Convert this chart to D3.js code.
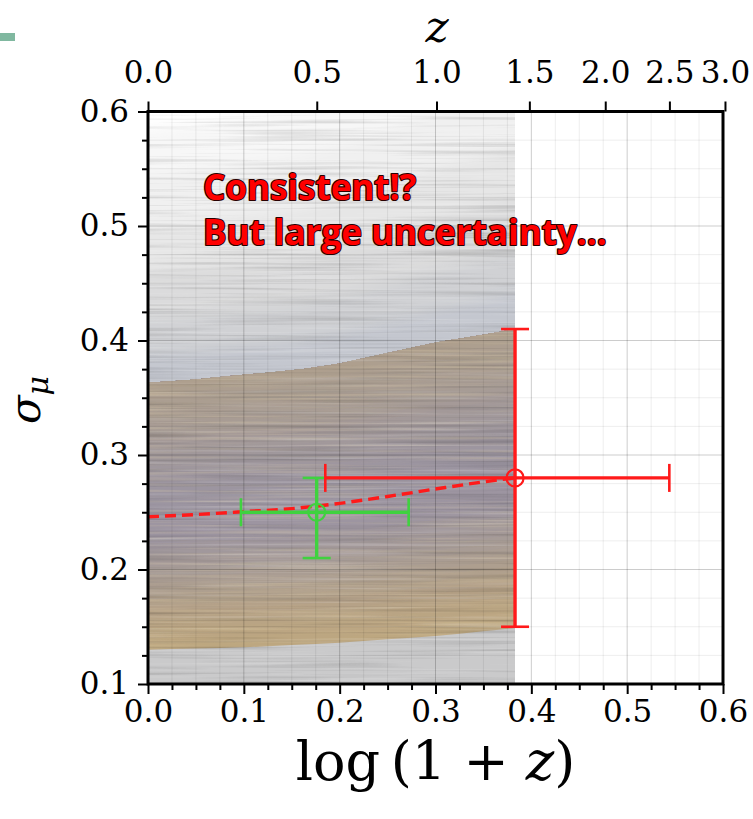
<!DOCTYPE html>
<html><head><meta charset="utf-8">
<script src="https://cdn.jsdelivr.net/npm/d3@7"></script>
<style>
html,body{margin:0;padding:0;background:#fff;}
svg{display:block;}
</style></head>
<body>
<svg id="chart" width="753" height="819"></svg>
<script>
// log10(1+z) sample positions for the best-fit curve and the posterior band
const logGrid   = [0, 0.05, 0.10, 0.15, 0.20, 0.25, 0.30, 0.35, 0.383];
const sigmaFit  = [0.246, 0.248, 0.2505, 0.2532, 0.2578, 0.2638, 0.2703, 0.2765, 0.280];
const bandUpper = [0.363, 0.366, 0.370, 0.374, 0.380, 0.389, 0.398, 0.405, 0.410];
const bandLower = [0.130, 0.131, 0.132, 0.134, 0.136, 0.139, 0.142, 0.146, 0.149];

// density levels of the gray posterior curves (values at z = 0), lightest first
const grayLevels = [0.585, 0.545, 0.500, 0.460, 0.420, 0.388];
const grayShades = ["#f7f7f7", "#f0f0f0", "#e6e6e6", "#dbdbdc", "#d0d1d4", "#c4c7cf"];

// colour stops across the highlighted band, from its lower edge (0) to its upper edge (1)
const bandStopT      = [0.00, 0.12, 0.28, 0.42, 0.58, 0.72, 0.86, 1.00];
const bandStopColors = ["#bea77f", "#b7a386", "#a89c95", "#9d95a1", "#9c95a1", "#a1989b", "#a99d93", "#ae9f8e"];

// measurements with their error bars
const pointNames = ["low-z", "high-z"];
const pointX     = [0.176, 0.383];
const pointY     = [0.250, 0.280];
const pointXLo   = [0.097, 0.185];
const pointXHi   = [0.272, 0.544];
const pointYLo   = [0.210, 0.150];
const pointYHi   = [0.280, 0.410];
const pointColor = ["#3fd23f", "#ff1a1a"];

const xTicks = [0.0, 0.1, 0.2, 0.3, 0.4, 0.5, 0.6];
const yTicks = [0.1, 0.2, 0.3, 0.4, 0.5, 0.6];
const zTicks = [0.0, 0.5, 1.0, 1.5, 2.0, 2.5, 3.0];
const annotation = ["Consistent!?", "But large uncertainty..."];

const svg = d3.select("#chart");
const X0 = 148, X1 = 723, YTOP = 111.5, YBOT = 684;
const x = d3.scaleLinear().domain([0, 0.6]).range([X0, X1]);
const y = d3.scaleLinear().domain([0.1, 0.6]).range([YBOT, YTOP]);
// top axis: redshift z placed at log10(1+z)
const xz = d3.scaleLog().domain([1, 4]).range([x(0), x(Math.log10(4))]);

const defs = svg.append("defs");
defs.append("clipPath").attr("id", "bundleClip")
  .append("rect").attr("x", x(0)).attr("y", YTOP)
  .attr("width", x(logGrid[logGrid.length - 1]) - x(0)).attr("height", YBOT - YTOP);
const vblur = defs.append("filter").attr("id", "vblur")
  .attr("x", "-5%").attr("y", "-10%").attr("width", "110%").attr("height", "120%");
vblur.append("feGaussianBlur").attr("stdDeviation", "0 7");

function streakFilter(id, seed, rgb, sign) {
  const f = defs.append("filter").attr("id", id)
    .attr("filterUnits", "userSpaceOnUse")
    .attr("x", X0).attr("y", YTOP).attr("width", X1 - X0).attr("height", YBOT - YTOP);
  f.append("feTurbulence").attr("type", "fractalNoise")
    .attr("baseFrequency", "0.005 0.32").attr("numOctaves", 2).attr("seed", seed);
  const a = sign > 0 ? "1.5 0 0 0 -0.72" : "-1.5 0 0 0 0.72";
  f.append("feColorMatrix").attr("type", "matrix")
    .attr("values", `0 0 0 0 ${rgb[0]}  0 0 0 0 ${rgb[1]}  0 0 0 0 ${rgb[2]}  ${a}`);
}
streakFilter("streakDark", 4, [0, 0, 0], 1);
streakFilter("streakLight", 11, [1, 1, 1], -1);
streakFilter("streakGold", 23, [0.85, 0.72, 0.45], 1);

const minorStep = 0.025;
const xMinor = d3.range(0, 0.6 + 1e-9, minorStep);
const yMinor = d3.range(0.1, 0.6 + 1e-9, minorStep);
const isMajor = v => Math.abs(v * 10 - Math.round(v * 10)) < 1e-6;

// ---- posterior curve bundle ----
const bundle = svg.append("g").attr("clip-path", "url(#bundleClip)");
const growth = sigmaFit.map(v => v / sigmaFit[0]);
const idx = d3.range(logGrid.length);

const grayG = bundle.append("g").attr("filter", "url(#vblur)");
grayLevels.forEach((lv, k) => {
  const area = d3.area().curve(d3.curveMonotoneX)
    .x(i => x(logGrid[i])).y0(y(0.06)).y1(i => y(lv * growth[i]));
  grayG.append("path").datum(idx).attr("d", area).attr("fill", grayShades[k]);
});
// gray curves below the band
bundle.append("path").datum(idx)
  .attr("d", d3.area().curve(d3.curveMonotoneX)
    .x(i => x(logGrid[i])).y0(y(0.06)).y1(i => y(bandLower[i])))
  .attr("fill", "#cacacb");

// highlighted band, painted as stacked layers from its lower edge upward
const bandColor = d3.scaleLinear().domain(bandStopT).range(bandStopColors);
const nLayers = 48;
d3.range(nLayers).forEach(k => {
  const t = k / nLayers;
  const area = d3.area().curve(d3.curveMonotoneX)
    .x(i => x(logGrid[i]))
    .y0(i => y(bandLower[i] + t * (bandUpper[i] - bandLower[i])))
    .y1(i => y(bandUpper[i]));
  bundle.append("path").datum(idx).attr("d", area)
    .attr("fill", bandColor(t + 0.5 / nLayers));
});

// streak texture of the individual curves
const texRect = (filter, op, clip) => {
  const r = bundle.append("rect").attr("x", X0).attr("y", YTOP)
    .attr("width", X1 - X0).attr("height", YBOT - YTOP)
    .attr("fill", "#000").attr("filter", `url(#${filter})`).attr("opacity", op);
  if (clip) r.attr("clip-path", `url(#${clip})`);
};
const goldClip = defs.append("clipPath").attr("id", "goldClip");
goldClip.append("path").datum(idx).attr("d", d3.area().curve(d3.curveMonotoneX)
  .x(i => x(logGrid[i])).y0(i => y(bandLower[i])).y1(i => y(bandUpper[i])));
texRect("streakDark", 0.24);
texRect("streakLight", 0.4);
texRect("streakGold", 0.45, "goldClip");

// grid drawn over the bundle, semi-transparent
const gridTop = svg.append("g");
xMinor.forEach(v => gridTop.append("line")
  .attr("x1", x(v)).attr("x2", x(v)).attr("y1", YTOP).attr("y2", YBOT)
  .attr("stroke", "#000").attr("stroke-opacity", isMajor(v) ? 0.2 : 0.07)
  .attr("stroke-width", 1));
yMinor.forEach(v => gridTop.append("line")
  .attr("y1", y(v)).attr("y2", y(v)).attr("x1", X0).attr("x2", X1)
  .attr("stroke", "#000").attr("stroke-opacity", isMajor(v) ? 0.2 : 0.07)
  .attr("stroke-width", 1));

// ---- best-fit dashed curve ----
svg.append("path").datum(idx)
  .attr("d", d3.line().curve(d3.curveMonotoneX).x(i => x(logGrid[i])).y(i => y(sigmaFit[i])))
  .attr("fill", "none").attr("stroke", "#ff1a1a").attr("stroke-width", 3.4)
  .attr("stroke-dasharray", "11,6");

// ---- measurements ----
const cap = 14;
pointNames.forEach((nm, i) => {
  const g = svg.append("g").attr("class", "pt-" + nm)
    .attr("stroke", pointColor[i]).attr("fill", "none");
  g.append("line").attr("x1", x(pointXLo[i])).attr("x2", x(pointXHi[i]))
    .attr("y1", y(pointY[i])).attr("y2", y(pointY[i])).attr("stroke-width", 3.4);
  g.append("line").attr("x1", x(pointX[i])).attr("x2", x(pointX[i]))
    .attr("y1", y(pointYLo[i])).attr("y2", y(pointYHi[i])).attr("stroke-width", 3.4);
  [pointXLo[i], pointXHi[i]].forEach(v => g.append("line")
    .attr("x1", x(v)).attr("x2", x(v)).attr("y1", y(pointY[i]) - cap).attr("y2", y(pointY[i]) + cap)
    .attr("stroke-width", 2.6));
  [pointYLo[i], pointYHi[i]].forEach(v => g.append("line")
    .attr("y1", y(v)).attr("y2", y(v)).attr("x1", x(pointX[i]) - cap).attr("x2", x(pointX[i]) + cap)
    .attr("stroke-width", 2.6));
  g.append("circle").attr("cx", x(pointX[i])).attr("cy", y(pointY[i])).attr("r", 8.5)
    .attr("stroke-width", 2.2);
});

// ---- axes ----
const serif = "DejaVu Serif";
const tickSize = 31;
function styleAxis(g) {
  g.select(".domain").remove();
  g.selectAll(".tick line").attr("stroke", "#000").attr("stroke-width", 2);
  g.selectAll(".tick text").attr("font-family", serif).attr("font-size", tickSize).attr("fill", "#000");
}
const fmt = d3.format(".1f");
const xMinorTicks = xMinor.filter(v => !isMajor(v));
const yMinorTicks = yMinor.filter(v => !isMajor(v));

svg.append("g").attr("transform", `translate(0,${YBOT})`)
  .call(d3.axisBottom(x).tickValues(xMinorTicks).tickSize(6).tickFormat(""))
  .call(styleAxis);
svg.append("g").attr("transform", `translate(0,${YBOT})`)
  .call(d3.axisBottom(x).tickValues(xTicks).tickSize(10).tickPadding(6).tickFormat(fmt))
  .call(styleAxis);
svg.append("g").attr("transform", `translate(${X0},0)`)
  .call(d3.axisLeft(y).tickValues(yMinorTicks).tickSize(6).tickFormat(""))
  .call(styleAxis);
svg.append("g").attr("transform", `translate(${X0},0)`)
  .call(d3.axisLeft(y).tickValues(yTicks).tickSize(10).tickPadding(9).tickFormat(fmt))
  .call(styleAxis);
svg.append("g").attr("transform", `translate(0,${YTOP})`)
  .call(d3.axisTop(xz).tickValues(zTicks.map(z => 1 + z)).tickSize(10).tickPadding(19)
    .tickFormat(d => fmt(d - 1)))
  .call(styleAxis);

// frame
svg.append("rect").attr("x", X0).attr("y", YTOP).attr("width", X1 - X0).attr("height", YBOT - YTOP)
  .attr("fill", "none").attr("stroke", "#000").attr("stroke-width", 3);

// axis titles
const xl = svg.append("text").attr("x", (X0 + X1) / 2).attr("y", 780)
  .attr("text-anchor", "middle").attr("font-family", serif).attr("font-size", 54).attr("fill", "#000");
xl.append("tspan").text("log\u2009(1 + ");
xl.append("tspan").attr("font-style", "italic").text("z");
xl.append("tspan").text(")");

svg.append("text").attr("x", 437).attr("y", 42).attr("text-anchor", "middle")
  .attr("font-family", serif).attr("font-style", "italic").attr("font-size", 44).attr("fill", "#000")
  .text("z");

const yl = svg.append("text").attr("transform", "translate(40,400) rotate(-90)")
  .attr("text-anchor", "middle").attr("font-family", serif).attr("font-style", "italic").attr("fill", "#000");
yl.append("tspan").attr("font-size", 42).text("\u03c3");
yl.append("tspan").attr("font-size", 30).attr("dy", 8).text("\u03bc");

// annotation
const ann = svg.append("g").attr("font-family", "Open Sans").attr("font-weight", 700)
  .attr("font-size", 35).attr("fill", "#ff0000").attr("stroke", "#2a0000")
  .attr("stroke-width", 2.2).attr("paint-order", "stroke").attr("stroke-linejoin", "round");
annotation.forEach((t, i) => ann.append("text").attr("x", 203).attr("y", 200 + i * 45).text(t));

// small marker in the corner
svg.append("rect").attr("x", 0).attr("y", 33).attr("width", 15).attr("height", 8).attr("fill", "#80b8a0");
</script>
</body></html>
